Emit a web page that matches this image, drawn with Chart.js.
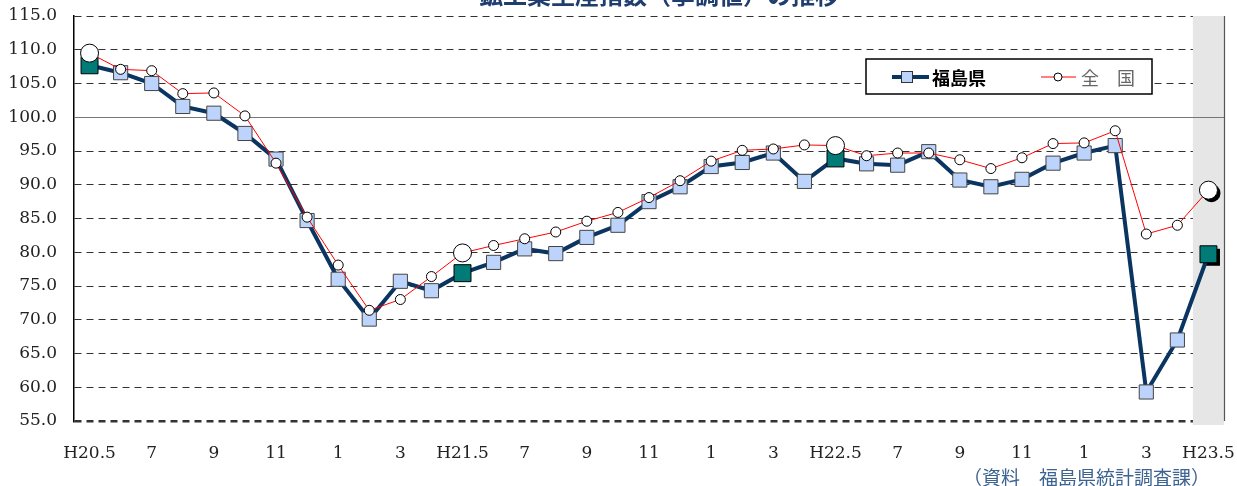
<!DOCTYPE html>
<html lang="ja">
<head>
<meta charset="utf-8">
<script src="https://cdn.jsdelivr.net/npm/chart.js@4/dist/chart.umd.min.js"></script>
<style>
  html, body { margin: 0; padding: 0; background: #fff; overflow: hidden; }
  #wrap { position: relative; width: 1237px; height: 486px; }
  #title {
    position: absolute; top: -18px; left: 659px; transform: translateX(-50%);
    font: bold 24px "Noto Sans CJK JP", sans-serif; line-height: 24px;
    color: #1f3d6e; white-space: nowrap;
  }
  #source {
    position: absolute; top: 466px; left: 963px;
    font: 19px "Noto Sans CJK JP", sans-serif; line-height: 22px;
    color: #3d6391; white-space: nowrap;
  }
</style>
</head>
<body>
<div id="wrap">
  <canvas id="grafico" width="1237" height="486"></canvas>
  <div id="title">鉱工業生産指数（季調値）の推移</div>
  <div id="source">（資料　福島県統計調査課）</div>
</div>
<script>
const meses = [
  "H20.5", "6", "7", "8", "9", "10", "11", "12", "1", "2", "3", "4",
  "H21.5", "6", "7", "8", "9", "10", "11", "12", "1", "2", "3", "4",
  "H22.5", "6", "7", "8", "9", "10", "11", "12", "1", "2", "3", "4",
  "H23.5",
];
const fukushima = [
  107.7, 106.6, 105.0, 101.6, 100.6, 97.6, 93.8, 84.7, 76.0, 70.1, 75.7, 74.3,
  76.9, 78.5, 80.5, 79.8, 82.2, 84.0, 87.5, 89.7, 92.7, 93.3, 94.7, 90.5,
  93.9, 93.1, 92.9, 94.9, 90.7, 89.7, 90.8, 93.2, 94.7, 95.8, 59.3, 67.0,
  79.7,
];
const zenkoku = [
  109.5, 107.1, 106.9, 103.5, 103.6, 100.2, 93.2, 85.2, 78.1, 71.4, 73.0, 76.4,
  79.9, 81.0, 82.0, 83.0, 84.6, 85.9, 88.1, 90.6, 93.5, 95.1, 95.3, 95.9,
  95.8, 94.3, 94.7, 94.7, 93.7, 92.4, 94.0, 96.1, 96.2, 98.0, 82.7, 84.0,
  89.2,
];
const destaques = [0, 12, 24, 36];
const ultimo = meses.length - 1;

const NAVY = "#0b3561";
const TEAL = "#007b78";
const SERIF = '"DejaVu Serif", "Liberation Serif", serif';

const isDestaque = (i) => destaques.includes(i);

// fundo cinza do ultimo mes, linha de 100 e borda direita
const fundoPlugin = {
  id: "fundo",
  beforeDatasetsDraw(chart) {
    const { ctx, chartArea, scales } = chart;
    const x = scales.x;
    const y = scales.y;
    const meio = (x.getPixelForValue(ultimo - 1) + x.getPixelForValue(ultimo)) / 2;

    ctx.save();
    ctx.fillStyle = "#e6e6e6";
    ctx.fillRect(meio, chartArea.top, chartArea.right - meio, chartArea.bottom - chartArea.top + 4);

    ctx.strokeStyle = "#777";
    ctx.lineWidth = 1.2;
    ctx.beginPath();
    const y100 = Math.round(y.getPixelForValue(100)) + 0.5;
    ctx.moveTo(chartArea.left, y100);
    ctx.lineTo(chartArea.right, y100);
    ctx.stroke();

    ctx.strokeStyle = "#555";
    ctx.beginPath();
    ctx.moveTo(chartArea.right + 0.5, chartArea.top);
    ctx.lineTo(chartArea.right + 0.5, chartArea.bottom);
    ctx.stroke();

    // sombra dos ultimos marcadores
    const pF = chart.getDatasetMeta(1).data[ultimo];
    const pZ = chart.getDatasetMeta(0).data[ultimo];
    ctx.fillStyle = "#000";
    ctx.fillRect(pF.x - 8.5 + 3, pF.y - 8.5 + 3, 17, 17);
    ctx.beginPath();
    ctx.arc(pZ.x + 3, pZ.y + 3, 9, 0, Math.PI * 2);
    ctx.fill();
    ctx.restore();
  },
};

// legenda desenhada dentro da area
const legendaPlugin = {
  id: "legenda",
  afterDraw(chart) {
    const { ctx } = chart;
    ctx.save();
    ctx.fillStyle = "#fff";
    ctx.fillRect(866, 59, 286, 35);
    ctx.strokeStyle = "#000";
    ctx.lineWidth = 1.5;
    ctx.strokeRect(866, 59, 286, 35);

    const ym = 77;
    ctx.strokeStyle = NAVY;
    ctx.lineWidth = 4;
    ctx.beginPath();
    ctx.moveTo(892, ym);
    ctx.lineTo(929, ym);
    ctx.stroke();
    ctx.fillStyle = "#bcd4fb";
    ctx.fillRect(901, ym - 6, 12, 12);
    ctx.strokeStyle = "#333";
    ctx.lineWidth = 1;
    ctx.strokeRect(901.5, ym - 5.5, 11, 11);

    ctx.strokeStyle = "#ff0000";
    ctx.lineWidth = 1;
    ctx.beginPath();
    ctx.moveTo(1041, ym);
    ctx.lineTo(1076, ym);
    ctx.stroke();
    ctx.fillStyle = "#fff";
    ctx.strokeStyle = "#000";
    ctx.beginPath();
    ctx.arc(1058, ym, 4, 0, Math.PI * 2);
    ctx.fill();
    ctx.stroke();

    ctx.textBaseline = "middle";
    ctx.fillStyle = "#000";
    ctx.font = 'bold 18px "Noto Sans CJK JP", sans-serif';
    ctx.fillText("福島県", 932, ym + 1);
    ctx.fillStyle = "#666";
    ctx.font = '18px "Noto Sans CJK JP", sans-serif';
    ctx.fillText("全　国", 1081, ym + 1);
    ctx.restore();
  },
};

const ctx = document.getElementById("grafico").getContext("2d");
const chart = new Chart(ctx, {
  type: "line",
  data: {
    labels: meses,
    datasets: [
      {
        label: "全国",
        data: zenkoku,
        order: 0,
        borderColor: "#ff0000",
        borderWidth: 1,
        pointStyle: "circle",
        pointRadius: (c) => (isDestaque(c.dataIndex) ? 9 : 5),
        pointBackgroundColor: "#fff",
        pointBorderColor: "#000",
        pointBorderWidth: 1,
        tension: 0,
      },
      {
        label: "福島県",
        data: fukushima,
        order: 1,
        borderColor: NAVY,
        borderWidth: 4,
        pointStyle: "rect",
        pointRadius: (c) => (isDestaque(c.dataIndex) ? 12 : 10),
        pointBackgroundColor: (c) => (isDestaque(c.dataIndex) ? TEAL : "#bcd4fb"),
        pointBorderColor: (c) => (isDestaque(c.dataIndex) ? "#000" : "#444"),
        pointBorderWidth: 1,
        tension: 0,
      },
    ],
  },
  options: {
    responsive: false,
    animation: false,
    layout: { padding: { left: 0, right: 12, top: 16, bottom: 25 } },
    plugins: {
      legend: { display: false },
      tooltip: { enabled: false },
    },
    scales: {
      x: {
        offset: true,
        grid: { display: false, drawTicks: false },
        border: { display: false },
        ticks: {
          autoSkip: false,
          maxRotation: 0,
          padding: 22,
          color: "#222",
          font: { family: SERIF, size: 17 },
          callback: function (v, i) {
            return i % 2 === 0 ? meses[i] : "";
          },
        },
        afterFit: (s) => {
          s.height = 40;
          s.paddingLeft = 0;
          s.paddingRight = 0;
        },
      },
      y: {
        min: 55,
        max: 115,
        ticks: {
          stepSize: 5,
          padding: 17,
          color: "#222",
          font: { family: SERIF, size: 17 },
          callback: (v) => v.toFixed(1),
        },
        grid: {
          drawTicks: false,
          color: (c) => (c.tick && c.tick.value === 100 ? "rgba(0,0,0,0)" : "#333"),
          lineWidth: (c) => (c.tick && c.tick.value === 55 ? 2.5 : 1),
        },
        border: { display: true, color: "#000", width: 1.5, dash: [7, 5] },
        afterFit: (s) => {
          s.width = 74;
          s.paddingTop = 0;
          s.paddingBottom = 0;
        },
      },
    },
  },
  plugins: [fundoPlugin, legendaPlugin],
});
</script>
</body>
</html>
